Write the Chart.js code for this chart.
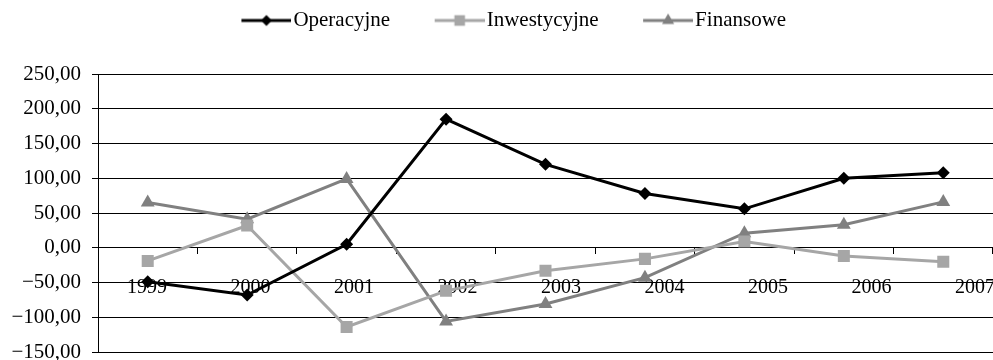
<!DOCTYPE html>
<html>
<head>
<meta charset="utf-8">
<script src="https://cdn.jsdelivr.net/npm/chart.js@4.4.0/dist/chart.umd.min.js"></script>
<style>
    html, body { margin: 0; padding: 0; background: #fff; overflow: hidden; }
    canvas { display: block; }
</style>
</head>
<body>
<canvas id="chart" width="993" height="360"></canvas>
<script>
const years = ["1999", "2000", "2001", "2002", "2003", "2004", "2005", "2006", "2007"];
const operacyjne = [-49, -68, 5, 185, 120, 78, 56, 100, 108];
const inwestycyjne = [-19, 32, -114, -62, -33, -16, 9, -12, -20];
const finansowe = [65, 41, 99, -106, -81, -43, 21, 33, 66];
const yMin = -150, yMax = 250, yStep = 50;

// year labels sit on their own axis, drifting right of the points like in the source
const labelStart = -0.473, labelEnd = 8.174;

Chart.defaults.font.family = "'Liberation Serif', 'Times New Roman', serif";
Chart.defaults.color = "#000";

const series = [
    {label: "Operacyjne", data: operacyjne, color: "#000000", style: "rectRot", radius: 6.5},
    {label: "Inwestycyjne", data: inwestycyjne, color: "#a6a6a6", style: "rect", radius: 8.5},
    {label: "Finansowe", data: finansowe, color: "#808080", style: "triangle", radius: 8}
];

const boxW = 76;
function legendIcon(s) {
    const c = document.createElement("canvas");
    c.width = boxW + 17;
    c.height = 18;
    const ctx = c.getContext("2d");
    ctx.strokeStyle = s.color;
    ctx.fillStyle = s.color;
    ctx.lineWidth = 3;
    ctx.beginPath();
    ctx.moveTo(c.width - 50, 9);
    ctx.lineTo(c.width, 9);
    ctx.stroke();
    Chart.helpers.drawPoint(ctx, {pointStyle: s.style, radius: s.radius - 1, rotation: 0, borderWidth: 0}, c.width - 25, 9);
    return c;
}

const legendHeight = {
    id: "legendHeight",
    beforeInit(chart) {
        const fit = chart.legend.fit;
        chart.legend.fit = function () {
            fit.bind(chart.legend)();
            this.height = 74;
        };
    }
};

const noSidePadding = scale => {
    scale.paddingLeft = 0;
    scale.paddingRight = 0;
};

new Chart(document.getElementById("chart"), {
    type: "line",
    data: {
        labels: years,
        datasets: series.map(s => ({
            label: s.label,
            data: s.data,
            borderColor: s.color,
            backgroundColor: s.color,
            borderWidth: 3,
            pointStyle: s.style,
            pointRadius: s.radius,
            pointBorderWidth: 0,
            tension: 0,
            xAxisID: "x",
            yAxisID: "y"
        }))
    },
    options: {
        responsive: false,
        animation: false,
        layout: {autoPadding: false, padding: 0},
        plugins: {
            tooltip: {enabled: false},
            legend: {
                position: "top",
                labels: {
                    usePointStyle: true,
                    pointStyleWidth: boxW,
                    padding: 10,
                    font: {size: 21},
                    color: "#000",
                    generateLabels: chart => series.map((s, i) => ({
                        text: s.label,
                        pointStyle: legendIcon(s),
                        fillStyle: s.color,
                        strokeStyle: s.color,
                        lineWidth: 0,
                        hidden: false,
                        datasetIndex: i
                    }))
                }
            }
        },
        scales: {
            y: {
                position: "left",
                min: yMin,
                max: yMax,
                ticks: {
                    stepSize: yStep,
                    padding: 11,
                    font: {size: 21},
                    callback: v => v.toFixed(2).replace(".", ",").replace("-", "\u2212")
                },
                grid: {color: "#000", lineWidth: 1, tickLength: 6},
                border: {color: "#000", width: 1},
                afterFit: scale => {
                    scale.width = 98;
                    scale.paddingTop = 0;
                    scale.paddingBottom = 8;
                }
            },
            x: {
                type: "category",
                position: {y: 0},
                offset: true,
                ticks: {display: false},
                grid: {offset: true, drawOnChartArea: false, drawTicks: true, tickLength: 6, color: "#000"},
                border: {color: "#000", width: 1},
                afterFit: noSidePadding
            },
            years: {
                type: "linear",
                axis: "x",
                position: {y: 0},
                min: labelStart,
                max: labelEnd,
                afterBuildTicks: scale => {
                    scale.ticks = years.map((_, i) => ({value: i}));
                },
                ticks: {
                    autoSkip: false,
                    maxRotation: 0,
                    padding: 20,
                    font: {size: 20},
                    callback: v => years[v]
                },
                grid: {display: false},
                border: {display: false},
                afterFit: noSidePadding
            }
        }
    },
    plugins: [legendHeight]
});
</script>
</body>
</html>
